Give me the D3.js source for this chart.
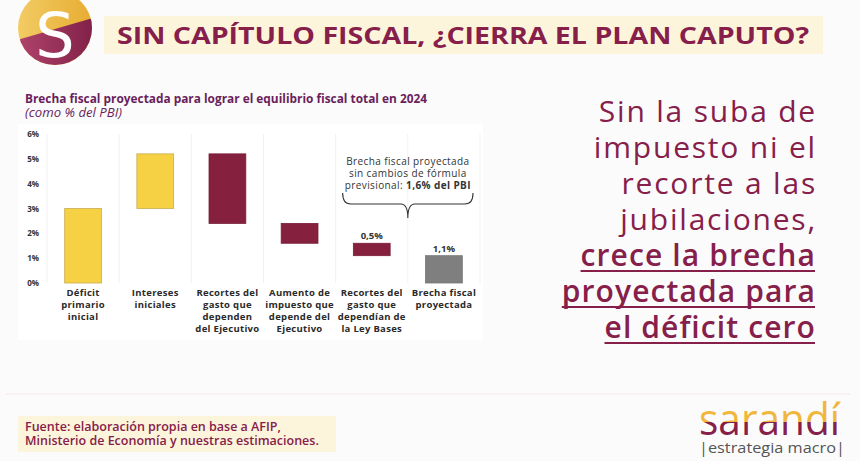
<!DOCTYPE html>
<html>
<head>
<meta charset="utf-8">
<script src="https://cdn.jsdelivr.net/npm/d3@7"></script>
<style>
  html, body { margin: 0; padding: 0; background: #fbfbfb; }
  svg { display: block; }
</style>
</head>
<body>
<div id="chart"></div>
<script>
// datos del gráfico (en % del PBI)
const categories = ["deficit", "intereses", "recortesEjec", "impuesto", "recortesLey", "brecha"];
const labelLines = [
  ["Déficit", "primario", "inicial"],
  ["Intereses", "iniciales"],
  ["Recortes del", "gasto que", "dependen", "del Ejecutivo"],
  ["Aumento de", "impuesto que", "depende del", "Ejecutivo"],
  ["Recortes del", "gasto que", "dependían de", "la Ley Bases"],
  ["Brecha fiscal", "proyectada"]
];
const deltas = [3.0, 2.2, -2.8, -0.8, -0.5, 1.1];
const kinds = ["up", "up", "down", "down", "down", "total"];
const valueLabels = ["", "", "", "", "0,5%", "1,1%"];
const yTicks = [0, 1, 2, 3, 4, 5, 6];
const braceText = ["Brecha fiscal proyectada", "sin cambios de fórmula"];
const braceValue = "1,6% del PBI";
const sideLines = ["Sin la suba de", "impuesto ni el", "recorte a las", "jubilaciones,"];
const sideLinesUnder = ["crece la brecha", "proyectada para", "el déficit cero"];

const width = 860;
const height = 461;

// colores
let maroon = "#86204a";
let yellow = "#f5d143";
let barMaroon = "#85203f";
let gray = "#7f7f7f";
let purple = "#6a1f5c";

const svg = d3.select("#chart").append("svg")
  .attr("width", width)
  .attr("height", height)
  .attr("viewBox", [0, 0, width, height]);

const defs = svg.append("defs");

// ---- encabezado ----
defs.append("clipPath").attr("id", "logoClip")
  .append("circle").attr("cx", 55).attr("cy", 28).attr("r", 37);
const lg = defs.append("linearGradient").attr("id", "logoGold")
  .attr("x1", 0).attr("y1", 0).attr("x2", 1).attr("y2", 0);
lg.append("stop").attr("offset", "0%").attr("stop-color", "#f3cf6a");
lg.append("stop").attr("offset", "100%").attr("stop-color", "#e6a92c");
const lm = defs.append("linearGradient").attr("id", "logoMaroon")
  .attr("x1", 0).attr("y1", 0).attr("x2", 1).attr("y2", 0);
lm.append("stop").attr("offset", "0%").attr("stop-color", "#b4476f");
lm.append("stop").attr("offset", "100%").attr("stop-color", "#7d1e45");

const logo = svg.append("g").attr("clip-path", "url(#logoClip)");
logo.append("rect").attr("x", 10).attr("y", -12).attr("width", 90).attr("height", 80).attr("fill", "url(#logoGold)");
logo.append("path").attr("d", "M10,42 L100,16 L100,70 L10,70 Z").attr("fill", "url(#logoMaroon)");
svg.append("text")
  .attr("x", 55).attr("y", 57)
  .attr("text-anchor", "middle")
  .attr("font-family", "DejaVu Sans")
  .attr("font-size", 62)
  .attr("fill", "#fff")
  .text("S");

svg.append("rect")
  .attr("x", 104).attr("y", 16).attr("width", 719).attr("height", 38)
  .attr("fill", "#fcf5dc");
svg.append("text")
  .attr("x", 117).attr("y", 44)
  .attr("font-family", "Open Sans")
  .attr("font-weight", 700)
  .attr("font-size", 24)
  .attr("fill", maroon)
  .attr("textLength", 692)
  .attr("lengthAdjust", "spacingAndGlyphs")
  .text("SIN CAPÍTULO FISCAL, ¿CIERRA EL PLAN CAPUTO?");

// ---- títulos del gráfico ----
svg.append("text")
  .attr("x", 25).attr("y", 103)
  .attr("font-family", "Open Sans")
  .attr("font-weight", 700)
  .attr("font-size", 12)
  .attr("fill", purple)
  .attr("textLength", 402)
  .attr("lengthAdjust", "spacingAndGlyphs")
  .text("Brecha fiscal proyectada para lograr el equilibrio fiscal total en 2024");
svg.append("text")
  .attr("x", 25).attr("y", 117)
  .attr("font-family", "Open Sans")
  .attr("font-style", "italic")
  .attr("font-size", 12)
  .attr("fill", purple)
  .attr("textLength", 97)
  .attr("lengthAdjust", "spacingAndGlyphs")
  .text("(como % del PBI)");

// panel blanco
svg.append("rect")
  .attr("x", 18).attr("y", 124).attr("width", 465).attr("height", 216)
  .attr("fill", "#ffffff");

// ---- escalas ----
const x = d3.scaleBand()
  .domain(categories)
  .range([47, 480])
  .paddingInner(0.49)
  .paddingOuter(0.245);
const y = d3.scaleLinear()
  .domain([0, 6])
  .range([283, 134]);

// acumulado tipo cascada
let run = 0;
const bars = categories.map((c, i) => {
  let y0, y1;
  if (kinds[i] === "total") {
    y0 = 0; y1 = deltas[i];
  } else {
    y0 = run; y1 = run + deltas[i]; run = y1;
  }
  return { cat: c, lo: Math.min(y0, y1), hi: Math.max(y0, y1), kind: kinds[i], label: valueLabels[i], lines: labelLines[i] };
});

// líneas verticales de fondo
const half = (x.step() - x.bandwidth()) / 2;
const gridX = categories.map(c => x(c) - half).concat([x(categories[categories.length - 1]) + x.bandwidth() + half]);
svg.append("g").selectAll("line")
  .data(gridX)
  .join("line")
  .attr("x1", d => d).attr("x2", d => d)
  .attr("y1", y(6)).attr("y2", y(0))
  .attr("stroke", "#f1f1f1")
  .attr("stroke-width", 1);

// eje Y
const yAxis = svg.append("g")
  .attr("transform", "translate(39,0)")
  .call(d3.axisLeft(y).tickValues(yTicks).tickSize(0).tickPadding(0).tickFormat(d => d + "%"));
yAxis.select(".domain").remove();
yAxis.selectAll("text")
  .attr("font-family", "Open Sans")
  .attr("font-weight", 700)
  .attr("font-size", 8)
  .attr("fill", "#333");

// barras
const fillOf = k => k === "up" ? yellow : (k === "down" ? barMaroon : gray);
const strokeOf = k => k === "up" ? "#c9ac52" : (k === "down" ? "#7a1c3a" : "#777");
svg.append("g").selectAll("rect")
  .data(bars)
  .join("rect")
  .attr("x", d => x(d.cat))
  .attr("width", x.bandwidth())
  .attr("y", d => y(d.hi))
  .attr("height", d => y(d.lo) - y(d.hi))
  .attr("fill", d => fillOf(d.kind))
  .attr("stroke", d => strokeOf(d.kind))
  .attr("stroke-width", 0.8);

// etiquetas de valor
svg.append("g").selectAll("text")
  .data(bars.filter(d => d.label))
  .join("text")
  .attr("x", d => x(d.cat) + x.bandwidth() / 2)
  .attr("y", d => y(d.hi) - 4)
  .attr("text-anchor", "middle")
  .attr("font-family", "Open Sans")
  .attr("font-weight", 700)
  .attr("font-size", 9.5)
  .attr("fill", "#333")
  .text(d => d.label);

// etiquetas de categoría
const catG = svg.append("g").selectAll("text")
  .data(bars)
  .join("text")
  .attr("x", d => x(d.cat) + x.bandwidth() / 2)
  .attr("y", 296)
  .attr("text-anchor", "middle")
  .attr("font-family", "Open Sans")
  .attr("font-weight", 700)
  .attr("font-size", 9.5)
  .attr("letter-spacing", 0.3)
  .attr("fill", "#2a2a2a");
catG.selectAll("tspan")
  .data(d => d.lines)
  .join("tspan")
  .attr("x", function() { return d3.select(this.parentNode).attr("x"); })
  .attr("dy", (d, i) => i === 0 ? 0 : 12)
  .text(d => d);

// llave con anotación
const bx0 = x("recortesLey") - half + 7;
const bx1 = x("brecha") + x.bandwidth() + half - 7;
const bm = (bx0 + bx1) / 2;
const bTop = 193, bMid = 204, bTip = 218;
svg.append("path")
  .attr("d", `M${bx0},${bTop} Q${bx0},${bMid} ${bx0 + 8},${bMid} L${bm - 7},${bMid} Q${bm},${bMid} ${bm},${bTip} Q${bm},${bMid} ${bm + 7},${bMid} L${bx1 - 8},${bMid} Q${bx1},${bMid} ${bx1},${bTop}`)
  .attr("fill", "none")
  .attr("stroke", "#333")
  .attr("stroke-width", 1.1);
const ann = svg.append("text")
  .attr("text-anchor", "middle")
  .attr("font-family", "Open Sans")
  .attr("font-size", 10)
  .attr("letter-spacing", 0.4)
  .attr("fill", "#333");
braceText.forEach((t, i) => {
  ann.append("tspan").attr("x", bm).attr("y", 165 + i * 12).text(t);
});
const last = ann.append("tspan").attr("x", bm).attr("y", 189);
last.append("tspan").text("previsional: ");
last.append("tspan").attr("font-weight", 700).text(braceValue);

// ---- texto lateral ----
const side = svg.append("g")
  .attr("font-family", "Open Sans")
  .attr("font-size", 30)
  .attr("fill", maroon)
  .attr("text-anchor", "end");
sideLines.forEach((t, i) => {
  side.append("text").attr("x", 817).attr("y", 122 + i * 36)
    .attr("letter-spacing", 1.8).text(t);
});
sideLinesUnder.forEach((t, i) => {
  const yy = 122 + (sideLines.length + i) * 36;
  const tx = side.append("text").attr("x", 816).attr("y", yy)
    .attr("font-weight", 600).attr("letter-spacing", 1.1).text(t);
  const w = tx.node().getComputedTextLength();
  side.append("line")
    .attr("x1", 816 - w).attr("x2", 815)
    .attr("y1", yy + 5).attr("y2", yy + 5)
    .attr("stroke", maroon).attr("stroke-width", 1.8);
});

// ---- pie ----
svg.append("line")
  .attr("x1", 6).attr("x2", 850)
  .attr("y1", 394).attr("y2", 394)
  .attr("stroke", "#f6e8ec").attr("stroke-width", 1);
svg.append("rect")
  .attr("x", 18).attr("y", 416).attr("width", 318).attr("height", 36)
  .attr("fill", "#fcf5dc");
const src = svg.append("text")
  .attr("font-family", "Open Sans")
  .attr("font-weight", 600)
  .attr("font-size", 12.5)
  .attr("fill", maroon);
src.append("tspan").attr("x", 25).attr("y", 431).text("Fuente: elaboración propia en base a AFIP,");
src.append("tspan").attr("x", 25).attr("y", 445).text("Ministerio de Economía y nuestras estimaciones.");

// logo sarandí
defs.append("clipPath").attr("id", "topHalf")
  .append("rect").attr("x", 690).attr("y", 390).attr("width", 170).attr("height", 32);
defs.append("clipPath").attr("id", "botHalf")
  .append("rect").attr("x", 690).attr("y", 422).attr("width", 170).attr("height", 20);
["topHalf", "botHalf"].forEach((id, i) => {
  svg.append("text")
    .attr("x", 699).attr("y", 435)
    .attr("clip-path", `url(#${id})`)
    .attr("font-family", "Open Sans")
    .attr("font-weight", 400)
    .attr("font-size", 44)
    .attr("fill", i === 0 ? "#f0b73c" : "#86204a")
    .attr("textLength", 141)
    .attr("lengthAdjust", "spacingAndGlyphs")
    .text("sarandí");
});
svg.append("text")
  .attr("x", 699).attr("y", 453)
  .attr("font-family", "Open Sans")
  .attr("font-size", 15)
  .attr("fill", "#555")
  .attr("textLength", 146)
  .attr("lengthAdjust", "spacingAndGlyphs")
  .text("|estrategia macro|");
</script>
</body>
</html>
